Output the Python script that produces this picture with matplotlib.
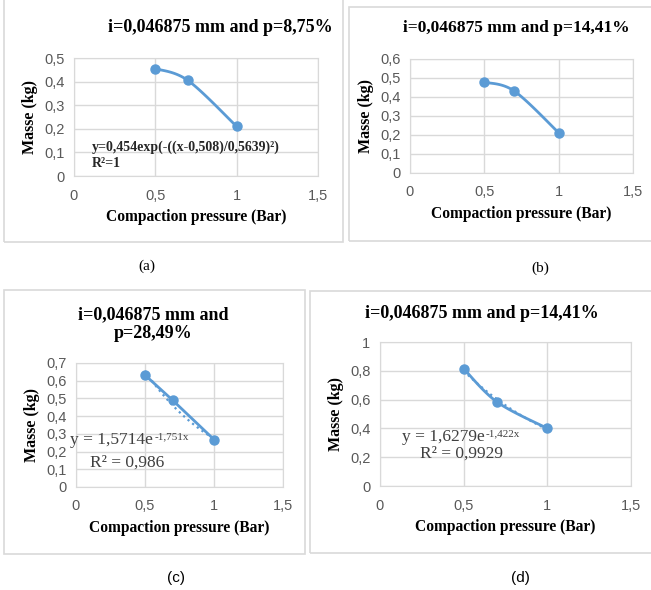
import numpy as np
import matplotlib
matplotlib.use("Agg")
import matplotlib.pyplot as plt
from matplotlib.patches import Rectangle

W, H = 651, 590

# ---- data ----
pressure = [0.5, 0.7, 1.0]
mass_a = [0.455, 0.405, 0.21]
mass_b = [0.478, 0.432, 0.212]
mass_c = [0.632, 0.49, 0.268]
mass_d = [0.815, 0.583, 0.40]

titles = ["i=0,046875 mm and p=8,75%",
          "i=0,046875 mm and p=14,41%",
          "i=0,046875 mm and\np=28,49%",
          "i=0,046875 mm and p=14,41%"]
captions = ["(a)", "(b)", "(c)", "(d)"]
xticks = [0, 0.5, 1, 1.5]
xticklabels = ["0", "0,5", "1", "1,5"]
yticks_a = [0, 0.1, 0.2, 0.3, 0.4, 0.5]
yticks_b = [0, 0.1, 0.2, 0.3, 0.4, 0.5, 0.6]
yticks_c = [0, 0.1, 0.2, 0.3, 0.4, 0.5, 0.6, 0.7]
yticks_d = [0, 0.2, 0.4, 0.6, 0.8, 1.0]
fit_c = (1.5714, -1.751)
fit_d = (1.6279, -1.422)

BLUE = "#5B9BD5"
GRID = "#D9D9D9"
TICKC = "#595959"
EQC = "#404040"
SERIF = "Liberation Serif"
SANS = "Liberation Sans"

fig = plt.figure(figsize=(W / 100, H / 100), dpi=100)


def px_rect(l, r, t, b):
    return [l / W, 1 - b / H, (r - l) / W, (b - t) / H]


def frame(l, r, t, b):
    fig.patches.append(Rectangle((l / W, 1 - b / H), (r - l) / W, (b - t) / H,
                                 transform=fig.transFigure, fill=False,
                                 edgecolor=GRID, linewidth=1.2))


def smooth(xs, ys, n=40):
    # Excel-like smoothed line (Catmull-Rom style Bezier)
    xs = np.asarray(xs, float)
    ys = np.asarray(ys, float)
    P = np.column_stack([xs, ys])
    out = []
    for i in range(len(P) - 1):
        p0 = P[i - 1] if i > 0 else P[i]
        p1 = P[i]
        p2 = P[i + 1]
        p3 = P[i + 2] if i + 2 < len(P) else P[i + 1]
        c1 = p1 + (p2 - p0) / 6
        c2 = p2 - (p3 - p1) / 6
        t = np.linspace(0, 1, n)[:, None]
        seg = ((1 - t) ** 3) * p1 + 3 * ((1 - t) ** 2) * t * c1 + 3 * (1 - t) * t ** 2 * c2 + t ** 3 * p2
        out.append(seg)
    pts = np.vstack(out)
    return pts[:, 0], pts[:, 1]


def make_axes(rect, ys, yticks, ylim, yfmt, smooth_line=True):
    ax = fig.add_axes(rect)
    ax.set_xlim(0, 1.5)
    ax.set_ylim(*ylim)
    ax.set_xticks(xticks)
    ax.set_xticklabels(xticklabels)
    ax.set_yticks(yticks)
    ax.set_yticklabels([yfmt(v) for v in yticks])
    ax.grid(True, color=GRID, linewidth=1)
    ax.set_axisbelow(True)
    for s in ax.spines.values():
        s.set_color(GRID)
    ax.tick_params(length=0, labelsize=10.5, labelcolor=TICKC, pad=7)
    for lab in ax.get_xticklabels() + ax.get_yticklabels():
        lab.set_fontfamily(SANS)
    ax.tick_params(axis="x", pad=9)
    if smooth_line:
        sx, sy = smooth(pressure, ys)
        ax.plot(sx, sy, color=BLUE, linewidth=2, zorder=3)
    else:
        ax.plot(pressure, ys, color=BLUE, linewidth=2, zorder=3)
    ax.plot(pressure, ys, "o", color=BLUE, markersize=6.5, zorder=4)
    ax.set_xlabel("Compaction pressure (Bar)", fontfamily=SERIF, fontweight="bold",
                  fontsize=11.2, labelpad=5)
    ax.set_ylabel("Masse (kg)", fontfamily=SERIF, fontweight="bold", fontsize=11.5, labelpad=4)
    return ax


def equation(ax, x, y, base, sup, r2, r2x, r2y):
    t = ax.text(x, y, base, fontfamily=SERIF, fontsize=12.5, ha="left",
                va="baseline", color=EQC)
    ax.annotate(sup, xy=(1.0, 0.0), xycoords=t, xytext=(1, 6),
                textcoords="offset points", fontfamily=SERIF, fontsize=8,
                ha="left", va="baseline", color=EQC)
    ax.text(r2x, r2y, r2, fontfamily=SERIF, fontsize=12.5, ha="left",
            va="baseline", color=EQC)


def fmt1(v):
    return ("%g" % round(v, 1)).replace(".", ",")


# panel frames
frame(4, 343, -2, 242)
frame(349, 653, 7, 241)
frame(4, 305, 290, 554)
frame(310, 653, 291, 553)

# (a)
ax_a = make_axes(px_rect(74, 318, 58, 176), mass_a, yticks_a, (0, 0.5), fmt1)
fig.text(220 / W, 1 - 27 / H, titles[0], ha="center", va="center",
         fontfamily=SERIF, fontweight="bold", fontsize=13)
ax_a.text(0.11, 0.123, "y=0,454exp(-((x-0,508)/0,5639)²)", fontfamily=SERIF,
          fontweight="bold", fontsize=10, ha="left", va="center", color="#262626")
ax_a.text(0.11, 0.055, "R²=1", fontfamily=SERIF, fontweight="bold", fontsize=10,
          ha="left", va="center", color="#262626")

# (b)
ax_b = make_axes(px_rect(410, 633, 59, 173), mass_b, yticks_b, (0, 0.6), fmt1)
fig.text(516 / W, 1 - 28 / H, titles[1], ha="center", va="center",
         fontfamily=SERIF, fontweight="bold", fontsize=12.5)

# (c)
ax_c = make_axes(px_rect(76, 283, 363, 487), mass_c, yticks_c, (0, 0.7), fmt1,
                 smooth_line=False)
fig.text(153 / W, 1 - 324 / H, titles[2], ha="center", va="center",
         fontfamily=SERIF, fontweight="bold", fontsize=13, linespacing=1.15)
xf = np.linspace(0.5, 1.0, 50)
ax_c.plot(xf, fit_c[0] * np.exp(fit_c[1] * xf), ":", color=BLUE, linewidth=1.6, zorder=3)
equation(ax_c, -0.04, 0.245, "y = 1,5714e", "-1,751x", "R² = 0,986", 0.10, 0.117)

# (d)
ax_d = make_axes(px_rect(380, 631, 342, 486), mass_d, yticks_d, (0, 1.0), fmt1)
fig.text(482 / W, 1 - 313 / H, titles[3], ha="center", va="center",
         fontfamily=SERIF, fontweight="bold", fontsize=13)
ax_d.plot(xf, fit_d[0] * np.exp(fit_d[1] * xf), ":", color=BLUE, linewidth=1.6, zorder=3)
equation(ax_d, 0.131, 0.315, "y = 1,6279e", "-1,422x", "R² = 0,9929", 0.24, 0.195)

# captions
fig.text(147 / W, 1 - 266 / H, captions[0], ha="center", va="center", fontfamily=SERIF, fontsize=11)
fig.text(540 / W, 1 - 268 / H, captions[1], ha="center", va="center", fontfamily=SERIF, fontsize=11)
fig.text(176 / W, 1 - 578 / H, captions[2], ha="center", va="center", fontfamily=SANS, fontsize=11)
fig.text(520 / W, 1 - 578 / H, captions[3], ha="center", va="center", fontfamily=SANS, fontsize=11)

fig.savefig("out.png", dpi=100)
